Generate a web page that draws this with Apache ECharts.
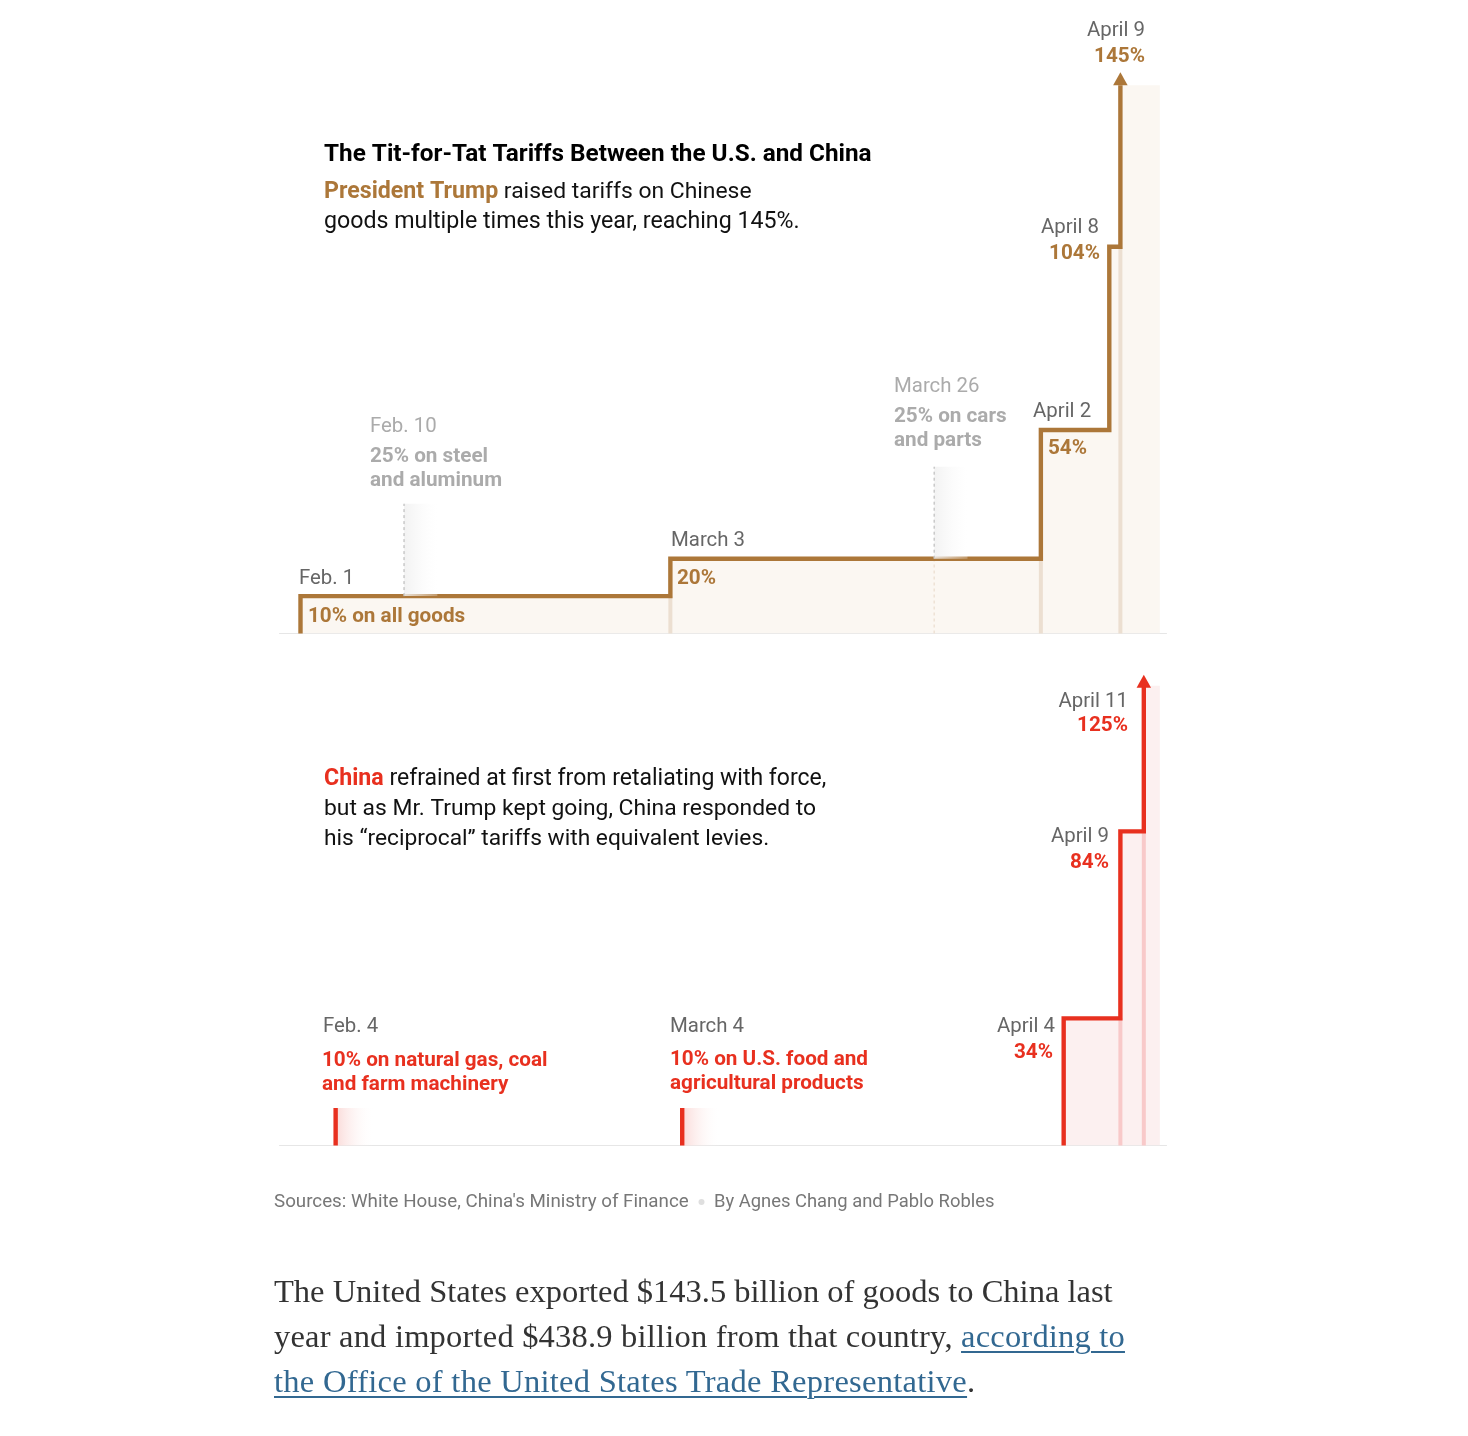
<!DOCTYPE html>
<html>
<head>
<meta charset="utf-8">
<title>The Tit-for-Tat Tariffs Between the U.S. and China</title>
<script src="https://cdn.jsdelivr.net/npm/echarts@6/dist/echarts.min.js"></script>
<style>
html,body{margin:0;padding:0;background:#fff;width:1468px;height:1436px;overflow:hidden}
#chart{position:absolute;left:0;top:0;width:1468px;height:1436px}
#para{position:absolute;left:274px;top:1269px;font-family:"Liberation Serif",serif;font-size:32.5px;line-height:45px;color:#333;white-space:nowrap}
#para a{color:#326891;text-decoration:underline;text-underline-offset:4px;text-decoration-thickness:1.5px}
#para div:nth-child(2){letter-spacing:.2px}
#para div:nth-child(3){letter-spacing:.27px}
</style>
</head>
<body>
<div id="chart"></div>
<div id="para"><div>The United States exported $143.5 billion of goods to China last</div><div>year and imported $438.9 billion from that country, <a href="#">according to</a></div><div><a href="#">the Office of the United States Trade Representative</a>.</div></div>
<script>
// x = days after Feb. 1; y = tariff rate in percent
const usSteps = [[0,0],[0,10],[30,20],[60.05,54.4],[65.6,103.4],[66.5,146.6]];
const usFillEnd = [69.7,146.6];
const usArrow = [66.5,148.3];
const usGuides = [[[30,0],[30,10]],[[60.05,0],[60.05,20]],[[66.5,0],[66.5,103.4]]];
const usPending = [[8.4,10,34.7],[51.4,20,44.6]];
const usPaleDash = [[51.4,0],[51.4,20]];
const chinaSteps = [[61.9,0],[61.9,34],[66.5,84],[68.4,122.9]];
const chinaFillEnd = [69.7,122.9];
const chinaArrow = [68.4,124.1];
const chinaGuides = [[[66.5,0],[66.5,34]],[[68.4,0],[68.4,84]]];
const chinaStubs = [[2.85,10],[30.96,10]];

const BROWN='#ac7739', RED='#e8301f', GREY='#666666', PALE='#ababab';
const SANS='Roboto';
const titleText='The Tit-for-Tat Tariffs Between the U.S. and China';
// [text, x, y, color, weight, align]
const labels=[
 ['Feb. 1',299,577,GREY,400,'left'],['10% on all goods',308,615,BROWN,700,'left'],
 ['March 3',671,539,GREY,400,'left'],['20%',677,577,BROWN,700,'left'],
 ['Feb. 10',370,425,PALE,400,'left'],['25% on steel',370,455,PALE,700,'left'],['and aluminum',370,479,PALE,700,'left'],
 ['March 26',894,385,PALE,400,'left'],['25% on cars',894,415,PALE,700,'left'],['and parts',894,439,PALE,700,'left'],
 ['April 2',1033,410,GREY,400,'left'],['54%',1048,447,BROWN,700,'left'],
 ['April 8',1099,226,GREY,400,'right'],['104%',1100,252,BROWN,700,'right'],
 ['April 9',1145,29,GREY,400,'right'],['145%',1145,55,BROWN,700,'right'],
 ['April 11',1128,700,GREY,400,'right'],['125%',1128,724,RED,700,'right'],
 ['April 9',1109,835,GREY,400,'right'],['84%',1109,861,RED,700,'right'],
 ['April 4',1055,1025,GREY,400,'right'],['34%',1053,1051,RED,700,'right'],
 ['Feb. 4',323,1025,GREY,400,'left'],['10% on natural gas, coal',322,1059,RED,700,'left'],['and farm machinery',322,1083,RED,700,'left'],
 ['March 4',670,1025,GREY,400,'left'],['10% on U.S. food and',670,1058,RED,700,'left'],['agricultural products',670,1082,RED,700,'left']
];
const bodyLines=[
 ['{k|President Trump} raised tariffs on Chinese',324,190,BROWN,22.9],
 ['goods multiple times this year, reaching 145%.',324,220,BROWN,23.2],
 ['{k|China} refrained at first from retaliating with force,',324,777,RED,23],
 ['but as Mr. Trump kept going, China responded to',324,807,RED,22.85],
 ['his \u201creciprocal\u201d tariffs with equivalent levies.',324,837,RED,22.75]
];

const graphic=[];
const txt=(text,x,y,fill,weight,align,size)=>graphic.push({type:'text',x,y:y+2,silent:true,z:20,style:{text,fill,fontFamily:SANS,fontWeight:weight,fontSize:size,align,verticalAlign:'middle'}});
txt(titleText,324,152.5,'#000',700,'left',24.3);
labels.forEach(l=>txt(l[0],l[1],l[2],l[3],l[4],l[5],l[4]===700?20.7:20.4));
bodyLines.forEach(b=>graphic.push({type:'text',x:b[1],y:b[2]+2,silent:true,z:20,style:{text:b[0],fill:'#111',fontFamily:SANS,fontSize:b[4],verticalAlign:'middle',align:'left',rich:{k:{fill:b[3],fontWeight:700,fontFamily:SANS,fontSize:23.2}}}}));
txt("Sources: White House, China's Ministry of Finance",274,1200.5,'#777',400,'left',18.75);
txt('By Agnes Chang and Pablo Robles',714,1200.5,'#777',400,'left',18.4);
graphic.push({type:'circle',shape:{cx:701.5,cy:1202,r:3},style:{fill:'#dfdfdf'},silent:true});

const line=(g,data,color,width,z,dash)=>({type:'line',xAxisIndex:g,yAxisIndex:g,data,showSymbol:false,symbol:'none',silent:true,z,animation:false,
  lineStyle:{color,width,type:dash||'solid',join:'miter',cap:'butt'}});
const stepLine=(g,data,color)=>Object.assign(line(g,data,color,4.4,6),{step:'end'});
const fill=(g,data,color)=>Object.assign(line(g,data,color,0,1),{step:'end',areaStyle:{color,opacity:1},lineStyle:{width:0}});
const arrow=(g,pt,color)=>({type:'scatter',xAxisIndex:g,yAxisIndex:g,data:[pt],symbol:'triangle',symbolSize:[14.5,13],itemStyle:{color,opacity:1},silent:true,z:7,animation:false});
const fade=(g,data,width,c0,c1,z)=>({type:'custom',xAxisIndex:g,yAxisIndex:g,data,silent:true,z,animation:false,clip:false,
  encode:{x:0,y:[1,2]},
  renderItem(p,api){
    const a=api.coord([api.value(0),api.value(2)]), b=api.coord([api.value(0)+width,api.value(1)]);
    return {type:'rect',shape:{x:a[0],y:a[1],width:b[0]-a[0],height:b[1]-a[1]},
      style:{fill:new echarts.graphic.LinearGradient(0,0,1,0,[{offset:0,color:c0},{offset:1,color:c1}])}};
  }});

const series=[
 fill(0,usSteps.concat([usFillEnd]),'#fbf7f2'),
 ...usGuides.map(d=>line(0,d,'#ecdfd1',4,2)),
 stepLine(0,usSteps,BROWN),
 arrow(0,usArrow,BROWN),
 fade(0,usPending,2.7,'rgba(240,240,240,0.85)','rgba(255,255,255,0.25)',8),
 ...usPending.map(d=>line(0,[[d[0],d[1]],[d[0],d[2]]],'#c9c9c9',1.5,9,[3,3])),
 line(0,usPaleDash,'#eee2d5',1.5,2,[3,3]),
 fill(1,chinaSteps.concat([chinaFillEnd]),'#fcf0f0'),
 ...chinaGuides.map(d=>line(1,d,'#f8c9c9',4,2)),
 stepLine(1,chinaSteps,RED),
 arrow(1,chinaArrow,RED),
 fade(1,chinaStubs.map(d=>[d[0],0,d[1]]),3.1,'#fadad8','rgba(255,255,255,0)',2),
 ...chinaStubs.map(d=>line(1,[[d[0],0],[d[0],d[1]]],RED,4.4,6))
];

const xAxisBase=i=>({type:'value',gridIndex:i,min:-1.703,max:70.24,axisLabel:{show:false},axisTick:{show:false},splitLine:{show:false},axisLine:{show:true,lineStyle:{color:'#e6e6e6',width:1}}});
const yAxisBase=(i,max)=>({type:'value',gridIndex:i,min:0,max,show:false,splitLine:{show:false}});

const chart=echarts.init(document.getElementById('chart'),null,{width:1468,height:1436});
chart.setOption({
 animation:false,backgroundColor:'#fff',
 grid:[{left:279.5,width:887,top:35.1,height:598.4},{left:279.5,width:887,top:659.3,height:486.2}],
 xAxis:[xAxisBase(0),xAxisBase(1)],
 yAxis:[yAxisBase(0,160),yAxisBase(1,130)],
 series,graphic
});
</script>
</body>
</html>
